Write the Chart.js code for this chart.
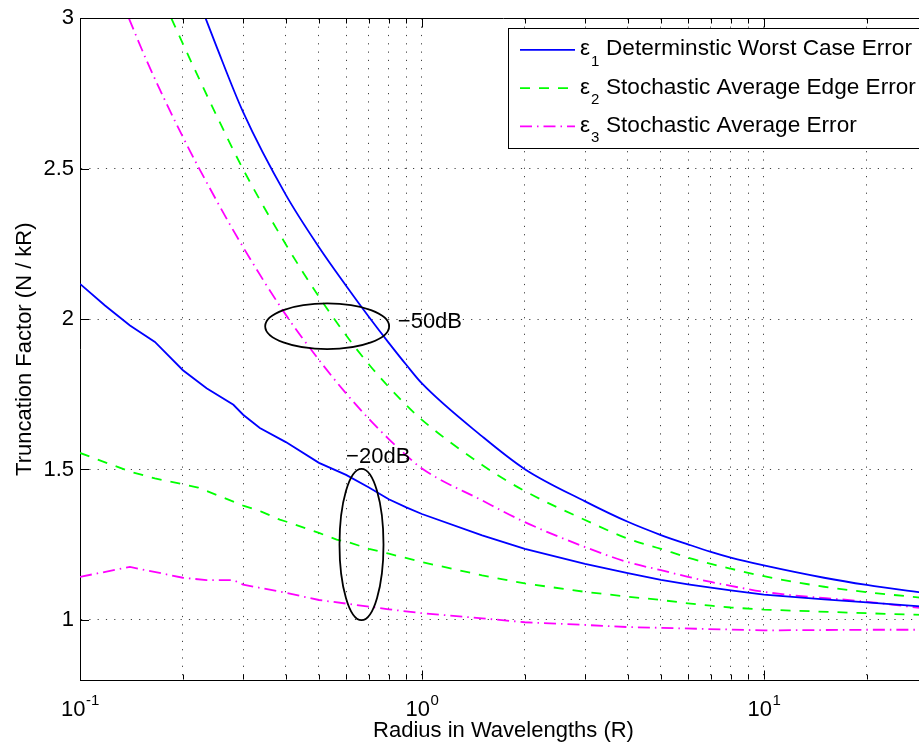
<!DOCTYPE html>
<html>
<head>
<meta charset="UTF-8" />
<script src="https://cdn.jsdelivr.net/npm/chart.js"></script>
<style>
  html, body { margin: 0; padding: 0; overflow: hidden; background: #fff; }
  canvas { display: block; }
</style>
</head>
<body>
<canvas id="chart" width="927" height="746"></canvas>
<script>
// values: radius R (wavelengths) and truncation factor N/kR
// eps1, -50dB
const rW50 = [0.233, 0.25, 0.3, 0.4, 0.5, 0.6, 0.7, 0.8, 0.9, 1, 1.5, 2, 3, 4, 5, 6, 7, 8, 10, 15, 20, 30];
const eW50 = [3.0, 2.91, 2.688, 2.413, 2.239, 2.111, 2.007, 1.921, 1.848, 1.786, 1.61, 1.501, 1.394, 1.326, 1.282, 1.251, 1.226, 1.207, 1.181, 1.14, 1.116, 1.088];
// eps1, -20dB
const rW20 = [0.1, 0.1183, 0.14, 0.1656, 0.2, 0.2345, 0.281, 0.3, 0.3357, 0.4, 0.5, 0.6, 0.7, 0.8, 0.9, 1, 1.5, 2, 3, 4, 5, 6, 7, 8, 10, 15, 20, 30];
const eW20 = [2.117, 2.045, 1.979, 1.924, 1.83, 1.77, 1.715, 1.682, 1.638, 1.591, 1.522, 1.482, 1.44, 1.401, 1.374, 1.352, 1.281, 1.236, 1.186, 1.155, 1.133, 1.118, 1.107, 1.098, 1.084, 1.068, 1.058, 1.043];
// eps2, -50dB
const rE50 = [0.185, 0.2, 0.25, 0.3, 0.4, 0.5, 0.6, 0.7, 0.8, 0.9, 1, 1.5, 2, 3, 4, 5, 6, 7, 8, 10, 15, 20, 30];
const eE50 = [3.0, 2.915, 2.68, 2.498, 2.248, 2.074, 1.946, 1.849, 1.774, 1.714, 1.665, 1.515, 1.428, 1.332, 1.27, 1.236, 1.207, 1.186, 1.17, 1.145, 1.11, 1.092, 1.072];
// eps2, -20dB
const rE20 = [0.1, 0.14, 0.1656, 0.2, 0.2216, 0.3, 0.339, 0.384, 0.4, 0.5, 0.563, 0.61, 0.7, 0.8, 1, 1.5, 2, 3, 4, 5, 6, 7, 8, 10, 20, 30];
const eE20 = [1.555, 1.493, 1.47, 1.451, 1.44, 1.38, 1.36, 1.333, 1.327, 1.289, 1.267, 1.258, 1.236, 1.22, 1.192, 1.148, 1.121, 1.093, 1.077, 1.066, 1.055, 1.047, 1.041, 1.034, 1.022, 1.016];
// eps3, -50dB
const rA50 = [0.139, 0.157, 0.2, 0.25, 0.3, 0.4, 0.5, 0.6, 0.7, 0.8, 0.9, 1, 1.5, 2, 3, 4, 5, 6, 7, 8, 10, 20, 30];
const eA50 = [3.0, 2.857, 2.605, 2.397, 2.239, 2.014, 1.864, 1.753, 1.668, 1.601, 1.547, 1.503, 1.397, 1.325, 1.242, 1.192, 1.165, 1.143, 1.126, 1.113, 1.093, 1.06, 1.037];
// eps3, -20dB
const rA20 = [0.1, 0.14, 0.2, 0.2345, 0.281, 0.3, 0.4, 0.5, 0.61, 0.7, 0.8, 1, 1.5, 2, 3, 4, 10, 20, 30];
const eA20 = [1.143, 1.176, 1.14, 1.132, 1.132, 1.117, 1.09, 1.066, 1.053, 1.044, 1.035, 1.022, 1.005, 0.992, 0.983, 0.976, 0.965, 0.967, 0.967];

// axes
const gridRadius = [0.1, 0.2, 0.3, 0.4, 0.5, 0.6, 0.7, 0.8, 0.9, 1, 2, 3, 4, 5, 6, 7, 8, 9, 10, 20];
const decadeValues = [0.1, 1, 10];
const decadeExps = ['-1', '0', '1'];
const yTicks = [1, 1.5, 2, 2.5, 3];

// legend
const legendSubs = ['1', '2', '3'];
const legendNames = ['Determinstic Worst Case Error', 'Stochastic Average Edge Error', 'Stochastic Average Error'];

// annotations: ellipses (data extents) and labels
const ellXMin = [0.348, 0.574];
const ellXMax = [0.802, 0.772];
const ellYMin = [1.9, 0.999];
const ellYMax = [2.052, 1.502];
const noteText = ['\u221250dB', '\u221220dB'];
const noteX = [0.85, 0.6];
const noteY = [1.997, 1.548];

const FONT = "'Liberation Sans', Arial, Helvetica, sans-serif";
const BLUE = '#0000ff', GREEN = '#00ff00', MAGENTA = '#ff00ff';
const DASH = [10, 9];
const DASHDOT = [12, 5, 1.5, 5];

const pts = (xs, ys) => xs.map((v, i) => ({ x: v, y: ys[i] }));

function line(data, color, dash, smooth) {
  return {
    data,
    borderColor: color,
    backgroundColor: color,
    borderWidth: 1.8,
    borderDash: dash,
    pointRadius: 0,
    fill: false,
    cubicInterpolationMode: smooth ? 'monotone' : 'default',
    tension: 0,
  };
}

const decor = {
  id: 'decor',
  afterDraw(chart) {
    const { ctx, chartArea: a, scales: { x, y } } = chart;
    const ds = chart.data.datasets;
    ctx.save();

    // top edge of the box + inward ticks
    ctx.strokeStyle = '#000';
    ctx.lineWidth = 1;
    ctx.setLineDash([]);
    ctx.beginPath();
    const top = Math.round(a.top) + 0.5;
    const bot = Math.round(a.bottom) - 0.5;
    ctx.moveTo(a.left, top);
    ctx.lineTo(a.right, top);
    gridRadius.forEach(v => {
      const px = Math.round(x.getPixelForValue(v)) + 0.5;
      const len = decadeValues.includes(v) ? 9 : 5;
      ctx.moveTo(px, bot);
      ctx.lineTo(px, bot - len);
      ctx.moveTo(px, top);
      ctx.lineTo(px, top + len);
    });
    yTicks.forEach(v => {
      const py = Math.round(y.getPixelForValue(v)) + 0.5;
      ctx.moveTo(a.left, py);
      ctx.lineTo(a.left + 9, py);
    });
    ctx.stroke();

    // x tick labels 10^n
    ctx.fillStyle = '#000';
    ctx.textBaseline = 'alphabetic';
    ctx.textAlign = 'left';
    decadeValues.forEach((v, i) => {
      const px = x.getPixelForValue(v);
      ctx.font = '22px ' + FONT;
      const wb = ctx.measureText('10').width;
      ctx.font = '15px ' + FONT;
      const we = ctx.measureText(decadeExps[i]).width;
      const x0 = px - (wb + we) / 2;
      const base = a.bottom + 35.5;
      ctx.font = '22px ' + FONT;
      ctx.fillText('10', x0, base);
      ctx.font = '15px ' + FONT;
      ctx.fillText(decadeExps[i], x0 + wb + 0.5, base - 10.5);
    });

    // ellipses
    ctx.lineWidth = 1.8;
    ellXMin.forEach((v, i) => {
      const x1 = x.getPixelForValue(v), x2 = x.getPixelForValue(ellXMax[i]);
      const y1 = y.getPixelForValue(ellYMax[i]), y2 = y.getPixelForValue(ellYMin[i]);
      ctx.beginPath();
      ctx.ellipse((x1 + x2) / 2, (y1 + y2) / 2, (x2 - x1) / 2, (y2 - y1) / 2, 0, 0, Math.PI * 2);
      ctx.stroke();
    });
    ctx.font = '22px ' + FONT;
    noteText.forEach((t, i) => {
      ctx.fillText(t, x.getPixelForValue(noteX[i]), y.getPixelForValue(noteY[i]) + 8);
    });

    // legend box
    const lx = a.left + 428, ly = a.top + 9.5, lw = 420, lh = 120;
    ctx.fillStyle = '#fff';
    ctx.fillRect(lx, ly, lw, lh);
    ctx.strokeStyle = '#000';
    ctx.lineWidth = 1;
    ctx.strokeRect(Math.round(lx) + 0.5, Math.round(ly) + 0.5, lw, lh);
    legendNames.forEach((name, i) => {
      const d = ds[i * 2];
      const base = ly + 27.5 + i * 38.3;
      ctx.strokeStyle = d.borderColor;
      ctx.lineWidth = d.borderWidth;
      ctx.setLineDash(d.borderDash || []);
      ctx.beginPath();
      ctx.moveTo(lx + 12, base - 5.5);
      ctx.lineTo(lx + 67, base - 5.5);
      ctx.stroke();
      ctx.setLineDash([]);
      ctx.fillStyle = '#000';
      ctx.font = '22.6px ' + FONT;
      ctx.fillText('\u03b5', lx + 72, base);
      const we = ctx.measureText('\u03b5').width;
      ctx.font = '15px ' + FONT;
      ctx.fillText(legendSubs[i], lx + 72 + we + 1, base + 10.5);
      ctx.font = '22.6px ' + FONT;
      ctx.fillText(name, lx + 98, base);
    });
    ctx.restore();
  }
};

const dotted = [1.2, 7.1];

new Chart(document.getElementById('chart'), {
  type: 'line',
  data: {
    datasets: [
      line(pts(rW50, eW50), BLUE, [], true),
      line(pts(rW20, eW20), BLUE, [], false),
      line(pts(rE50, eE50), GREEN, DASH, true),
      line(pts(rE20, eE20), GREEN, DASH, false),
      line(pts(rA50, eA50), MAGENTA, DASHDOT, true),
      line(pts(rA20, eA20), MAGENTA, DASHDOT, false),
    ],
  },
  options: {
    responsive: false,
    animation: false,
    devicePixelRatio: 1,
    layout: { padding: { top: 12, right: 0, bottom: 0, left: 0 } },
    plugins: { legend: { display: false }, tooltip: { enabled: false } },
    scales: {
      x: {
        type: 'logarithmic',
        min: 0.1,
        max: 30,
        afterBuildTicks: s => { s.ticks = gridRadius.map(v => ({ value: v })); },
        afterFit: s => { s.height = 66; },
        ticks: { display: false },
        grid: { color: 'rgba(0,0,0,0.75)', lineWidth: 1, drawTicks: false },
        border: { display: true, color: '#000', width: 1, dash: dotted },
        title: {
          display: true,
          text: 'Radius in Wavelengths (R)',
          color: '#000',
          font: { family: FONT, size: 22 },
          padding: { top: 0, bottom: 2 },
        },
      },
      y: {
        type: 'linear',
        min: 0.8,
        max: 3,
        afterBuildTicks: s => { s.ticks = yTicks.map(v => ({ value: v })); },
        afterFit: s => { s.width = 80; },
        ticks: {
          color: '#000',
          padding: 6,
          font: { family: FONT, size: 22, lineHeight: 1.12 },
          callback: v => String(v),
        },
        grid: { color: 'rgba(0,0,0,0.75)', lineWidth: 1, drawTicks: false },
        border: { display: true, color: '#000', width: 1, dash: dotted },
        title: {
          display: true,
          text: 'Truncation Factor (N / kR)',
          color: '#000',
          font: { family: FONT, size: 22 },
          padding: { top: 12, bottom: 0 },
        },
      },
    },
  },
  plugins: [decor],
});
</script>
</body>
</html>
